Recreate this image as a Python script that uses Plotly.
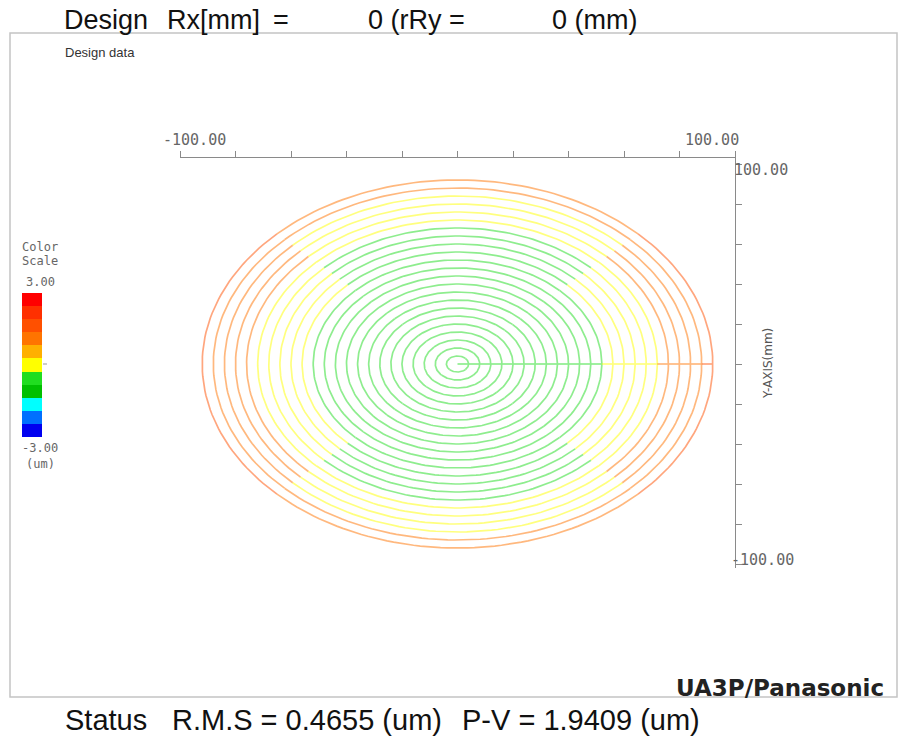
import numpy as np
import plotly.graph_objects as go

W, H = 899, 742

# ---------------- data ----------------
ring_radius_mm = [4, 8, 12, 16, 20, 24, 28, 32, 36, 40, 44, 48, 52,
                  56, 60, 64, 68, 72, 76, 80, 84, 88, 92]
# deviation (um) read along the horizontal (left / right) parts of each ring
ring_dev_horizontal_um = [-0.55, -0.53, -0.52, -0.50, -0.49, -0.47, -0.46, -0.44, -0.42,
                          -0.40, -0.38, -0.35, -0.31, -0.22, -0.15, -0.07, 0.02, 0.12,
                          0.85, 0.95, 1.10, 1.25, 1.39]
# deviation (um) read along the vertical (top / bottom) parts of each ring
ring_dev_vertical_um = [-0.55, -0.54, -0.53, -0.52, -0.51, -0.50, -0.49, -0.48, -0.47,
                        -0.46, -0.45, -0.43, -0.41, -0.39, -0.36, -0.33, -0.30, -0.18,
                        -0.05, 0.08, 0.20, 0.90, 1.20]
scale_colors = ["#0000f0", "#0070ff", "#00ffff", "#00c000", "#20dd20", "#ffff00",
                "#ffb000", "#ff7400", "#ff5000", "#ff3000", "#ff0000"]
scale_min_um, scale_max_um = -3.0, 3.0
axis_ticks_mm = [-100, -80, -60, -40, -20, 0, 20, 40, 60, 80, 100]
axis_min_label, axis_max_label = "-100.00", "100.00"
title_parts = ["Design", "Rx[mm]", "=", "0 (rRy =", "0 (mm)"]
status_parts = ["Status", "R.M.S = 0.4655 (um)", "P-V = 1.9409 (um)"]
scale_texts = ["Color", "Scale", "3.00", "-3.00", "(um)"]
corner_text = "Design data"
brand_text = "UA3P/Panasonic"
axis_title = "Y-AXIS(mm)"

# ---------------- helpers ----------------
def px(x):
    return x / W

def py(y):
    return 1 - y / H

def level_of(v):
    n = len(scale_colors)
    i = int(np.floor((v - scale_min_um) / (scale_max_um - scale_min_um) * n))
    return max(0, min(n - 1, i))

groups = {i: ([], []) for i in range(len(scale_colors))}

def add_arc(r, a0, a1, v):
    t = np.radians(np.linspace(a0, a1, 60))
    xs, ys = groups[level_of(v)]
    xs.extend(list(r * np.cos(t)) + [None])
    ys.extend(list(r * np.sin(t)) + [None])

for r, vh, vv in zip(ring_radius_mm, ring_dev_horizontal_um, ring_dev_vertical_um):
    add_arc(r, -45, 45, vh)
    add_arc(r, 45, 135, vv)
    add_arc(r, 135, 225, vh)
    add_arc(r, 225, 315, vv)

# radial trace from the centre to the right edge
prev = 0
for r, vh in zip(ring_radius_mm, ring_dev_horizontal_um):
    xs, ys = groups[level_of(vh)]
    xs.extend([prev, r, None])
    ys.extend([0, 0, None])
    prev = r

fig = go.Figure()
for lvl, (xs, ys) in groups.items():
    if not xs:
        continue
    fig.add_trace(go.Scatter(x=xs, y=ys, mode="lines",
                             line=dict(color=scale_colors[lvl], width=1.7),
                             opacity=0.5, hoverinfo="skip", showlegend=False,
                             xaxis="x", yaxis="y"))

# colour scale bar
n = len(scale_colors)
cs = []
for i, c in enumerate(scale_colors):
    cs.append([i / n, c])
    cs.append([(i + 1) / n, c])
fig.add_trace(go.Heatmap(z=[[i] for i in range(n)], y=list(range(n)), x=[0],
                         colorscale=cs, zmin=-0.5, zmax=n - 0.5, showscale=False,
                         hoverinfo="skip", xaxis="x2", yaxis="y2"))

grey = "#8a8a8a"
common_x = dict(range=[-100, 100], tickvals=axis_ticks_mm, showticklabels=False,
                showgrid=False, zeroline=False, ticklen=6, tickcolor=grey, tickwidth=1)
common_y = dict(range=[-102, 103], tickvals=axis_ticks_mm, showticklabels=False,
                showgrid=False, zeroline=False, ticklen=6, tickcolor=grey, tickwidth=1)

fig.update_layout(
    width=W, height=H, margin=dict(l=0, r=0, t=0, b=0),
    paper_bgcolor="white", plot_bgcolor="rgba(0,0,0,0)",
    xaxis=dict(domain=[px(180), px(735)], side="top", anchor="y", showline=True,
               linecolor=grey, linewidth=1, ticks="outside", **common_x),
    xaxis3=dict(overlaying="x", side="top", anchor="y", showline=False,
                ticks="inside", **common_x),
    yaxis=dict(domain=[py(568), py(158)], side="right", anchor="x", showline=True,
               linecolor=grey, linewidth=1, ticks="outside", **common_y),
    yaxis4=dict(overlaying="y", side="right", anchor="x", showline=False,
                ticks="inside", **common_y),
    xaxis2=dict(domain=[px(22), px(42)], anchor="y2", visible=False),
    yaxis2=dict(domain=[py(437), py(293)], anchor="x2", visible=False,
                range=[-0.5, n - 0.5]),
    showlegend=False,
)

# panel frame and colour-scale zero mark
fig.add_shape(type="rect", xref="paper", yref="paper", x0=px(10), x1=px(897),
              y0=py(697), y1=py(33), line=dict(color="#c4c4c4", width=1.5),
              layer="below")
fig.add_shape(type="line", xref="paper", yref="paper", x0=px(43), x1=px(47),
              y0=py(364), y1=py(364), line=dict(color="#999", width=1))

def ann(text, x, y, size, xanchor="left", family="Liberation Sans", color="#111",
        angle=0, bold=False):
    t = f"<b>{text}</b>" if bold else text
    fig.add_annotation(text=t, x=px(x), y=py(y), xref="paper", yref="paper",
                       xanchor=xanchor, yanchor="middle", showarrow=False,
                       textangle=angle, borderpad=0,
                       font=dict(family=family, size=size, color=color))

# title line
for txt, x in zip(title_parts, [63, 166, 272, 367, 551]):
    ann(txt, x, 20, 27)
# status line
for txt, x in zip(status_parts, [64, 171, 461]):
    ann(txt, x, 720, 29)

ann(corner_text, 64, 52, 13, color="#333")
ann(brand_text, 885, 688, 23, xanchor="right", family="DejaVu Sans", bold=True,
    color="#222")

mono = "DejaVu Sans Mono"
lab = "#666"
ann(axis_min_label, 194, 140, 15, xanchor="center", family=mono, color=lab)
ann(axis_max_label, 712, 140, 15, xanchor="center", family=mono, color=lab)
ann(axis_max_label, 733, 170, 15, xanchor="left", family=mono, color=lab)
ann(axis_min_label, 795, 560, 15, xanchor="right", family=mono, color=lab)
ann(axis_title, 768, 364, 12, xanchor="center", family="DejaVu Sans", color="#555",
    angle=-90)

# colour scale texts
for txt, y in zip(scale_texts, [247, 261, 282, 448, 464]):
    ann(txt, 40, y, 12, xanchor="center", family=mono, color=lab)

fig.write_html("out.html")
